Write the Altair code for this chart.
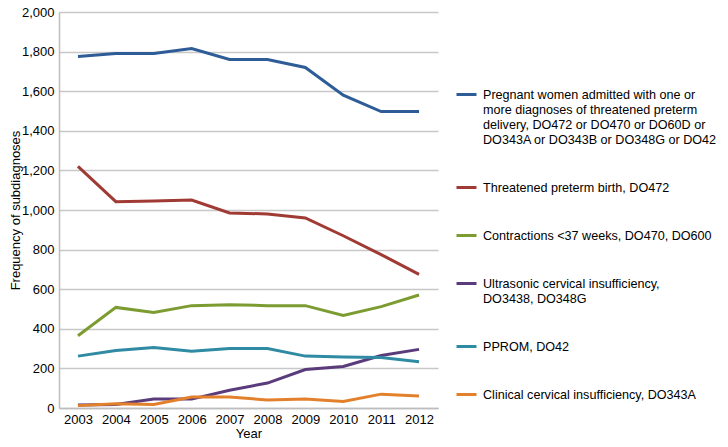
import altair as alt
import pandas as pd

years = ["2003", "2004", "2005", "2006", "2007", "2008", "2009", "2010", "2011", "2012"]

series_names = [
    "Pregnant women admitted with one or\nmore diagnoses of threatened preterm\ndelivery, DO472 or DO470 or DO60D or\nDO343A or DO343B or DO348G or DO42",
    "Threatened preterm birth, DO472",
    "Contractions <37 weeks, DO470, DO600",
    "Ultrasonic cervical insufficiency,\nDO3438, DO348G",
    "PPROM, DO42",
    "Clinical cervical insufficiency, DO343A",
]

pregnant_total = [1775, 1790, 1790, 1815, 1760, 1760, 1720, 1580, 1497, 1497]
threatened_preterm = [1220, 1042, 1045, 1050, 985, 980, 960, 870, 775, 675]
contractions = [365, 508, 483, 517, 522, 517, 517, 467, 512, 571]
ultrasonic = [15, 18, 45, 45, 90, 126, 194, 210, 265, 296]
pprom = [262, 290, 305, 287, 300, 300, 262, 258, 255, 234]
clinical = [12, 22, 18, 55, 55, 41, 45, 33, 70, 60]

colors = ["#2e5c96", "#a03a34", "#7c9c32", "#5a3b7c", "#2f8aa3", "#e2802c"]

all_values = [pregnant_total, threatened_preterm, contractions, ultrasonic, pprom, clinical]
rows = []
for name, vals in zip(series_names, all_values):
    for y, v in zip(years, vals):
        rows.append({"Year": y, "Series": name, "Value": v})
df = pd.DataFrame(rows)

FONT = "Liberation Sans"
FS = 13

chart = alt.Chart(df).mark_line(strokeWidth=3).encode(
    x=alt.X("Year:N", sort=years, scale=alt.Scale(paddingOuter=0.5),
            axis=alt.Axis(title="Year", labelAngle=0, ticks=False, grid=False,
                          domainColor="#bdbdbd", domainWidth=1.5,
                          labelFontSize=FS, labelPadding=5, titleFontSize=FS,
                          titlePadding=1, titleFontWeight="normal")),
    y=alt.Y("Value:Q", scale=alt.Scale(domain=[0, 2000]),
            axis=alt.Axis(title="Frequency of subdiagnoses", values=list(range(0, 2001, 200)),
                          format=",d", ticks=False, gridColor="#c8c8c8", gridWidth=1.5,
                          domainColor="#bdbdbd", domainWidth=1.5,
                          labelFontSize=FS, labelPadding=5, titleFontSize=FS,
                          titleFontWeight="normal", titleX=-37)),
    color=alt.Color("Series:N", sort=series_names,
                    scale=alt.Scale(domain=series_names, range=colors),
                    legend=alt.Legend(title=None, orient="none", legendX=396, legendY=71,
                                      symbolType="stroke", symbolStrokeWidth=3, symbolSize=400,
                                      labelOffset=5,
                                      labelFontSize=12.6, labelLimit=400, rowPadding=29,
                                      labelExpr="split(datum.label, '\\n')")),
).properties(
    width=379, height=396,
    autosize=alt.AutoSizeParams(type="none"),
    padding={"left": 51, "top": 4, "right": 282, "bottom": 33},
).configure(font=FONT, style={"guide-label": {"lineHeight": 15}}).configure_view(stroke=None)

chart.save("out.html", embed_options={"renderer": "svg", "actions": False})
